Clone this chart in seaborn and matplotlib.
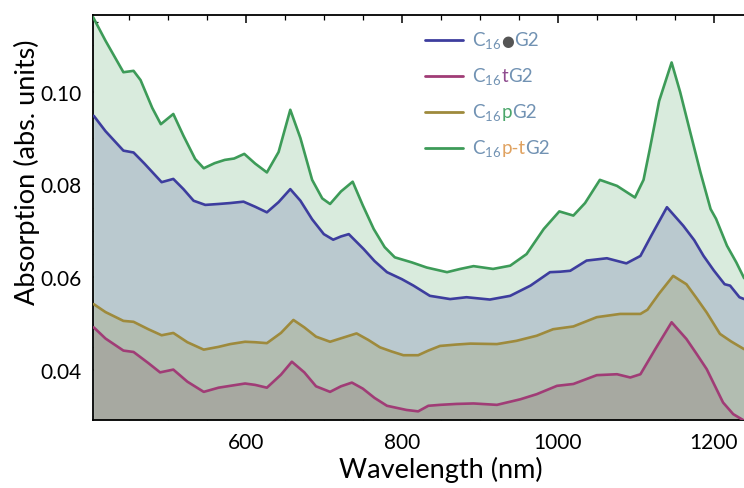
import numpy as np
import pandas as pd
import matplotlib
matplotlib.use("Agg")
import matplotlib.pyplot as plt
import seaborn as sns
from matplotlib.ticker import MultipleLocator, FormatStrFormatter
from matplotlib.offsetbox import TextArea, DrawingArea, HPacker, VPacker, AnchoredOffsetbox
from matplotlib.lines import Line2D

# ---------------- data ----------------
wl_green = [404, 420, 443, 456, 465, 480, 491, 507, 520, 535, 546, 560, 573, 585, 598, 612, 627, 642,
            657, 670, 685, 698, 708, 722, 737, 750, 764, 778, 791, 813, 832, 858, 875, 892, 917, 939,
            960, 982, 1002, 1020, 1035, 1054, 1076, 1099, 1110, 1118, 1130, 1146, 1157, 1170, 1183,
            1196, 1203, 1217, 1229, 1239]
ab_green = [0.1161, 0.1110, 0.1042, 0.1045, 0.1025, 0.0965, 0.0930, 0.0952, 0.0905, 0.0855, 0.0835,
            0.0846, 0.0853, 0.0856, 0.0866, 0.0845, 0.0826, 0.0870, 0.0961, 0.0900, 0.0810, 0.0770,
            0.0758, 0.0785, 0.0806, 0.0755, 0.0704, 0.0665, 0.0643, 0.0632, 0.0621, 0.0611, 0.0618,
            0.0624, 0.0618, 0.0625, 0.0650, 0.0704, 0.0742, 0.0733, 0.0760, 0.0810, 0.0797, 0.0772,
            0.0810, 0.0876, 0.0980, 0.1063, 0.0999, 0.0912, 0.0826, 0.0747, 0.0726, 0.0668, 0.0632,
            0.0598]

wl_blue = [405, 420, 443, 456, 470, 492, 507, 520, 533, 548, 565, 580, 597, 612, 627, 642, 657, 670,
           685, 700, 712, 722, 732, 751, 765, 781, 800, 815, 836, 862, 883, 913, 939, 965, 990, 1003,
           1016, 1037, 1063, 1088, 1106, 1120, 1140, 1161, 1175, 1187, 1200, 1214, 1221, 1233, 1239]
ab_blue = [0.0948, 0.0915, 0.0873, 0.0869, 0.0845, 0.0805, 0.0812, 0.0790, 0.0765, 0.0756, 0.0758,
           0.0760, 0.0763, 0.0752, 0.0740, 0.0762, 0.0790, 0.0765, 0.0725, 0.0693, 0.0681, 0.0688,
           0.0693, 0.0661, 0.0635, 0.0611, 0.0596, 0.0582, 0.0560, 0.0553, 0.0557, 0.0552, 0.0560,
           0.0582, 0.0611, 0.0612, 0.0614, 0.0636, 0.0641, 0.0630, 0.0646, 0.0690, 0.0751, 0.0711,
           0.0680, 0.0646, 0.0615, 0.0585, 0.0582, 0.0557, 0.0553]

wl_yellow = [405, 420, 443, 456, 475, 492, 507, 525, 546, 565, 580, 599, 612, 627, 645, 661, 675, 690,
             708, 725, 742, 757, 772, 787, 802, 821, 834, 849, 870, 888, 922, 947, 973, 994, 1020,
             1050, 1080, 1106, 1115, 1130, 1148, 1165, 1178, 1191, 1208, 1222, 1239]
ab_yellow = [0.0542, 0.0525, 0.0506, 0.0504, 0.0488, 0.0475, 0.0480, 0.0460, 0.0444, 0.0450, 0.0456,
             0.0461, 0.0460, 0.0458, 0.0480, 0.0508, 0.0492, 0.0472, 0.0461, 0.0470, 0.0479, 0.0465,
             0.0449, 0.0440, 0.0432, 0.0432, 0.0442, 0.0452, 0.0455, 0.0457, 0.0456, 0.0463, 0.0474,
             0.0488, 0.0494, 0.0514, 0.0521, 0.0521, 0.0530, 0.0565, 0.0603, 0.0585, 0.0555, 0.0524,
             0.0478, 0.0462, 0.0445]

wl_magenta = [405, 420, 443, 456, 475, 490, 507, 525, 546, 565, 580, 599, 612, 627, 645, 659, 675,
              690, 708, 722, 736, 750, 765, 781, 806, 821, 834, 849, 870, 892, 922, 952, 973, 999,
              1020, 1050, 1076, 1093, 1106, 1125, 1146, 1165, 1178, 1191, 1212, 1225, 1239]
ab_magenta = [0.0492, 0.0468, 0.0442, 0.0439, 0.0415, 0.0395, 0.0401, 0.0375, 0.0353, 0.0362, 0.0366,
              0.0371, 0.0368, 0.0362, 0.0390, 0.0418, 0.0395, 0.0365, 0.0353, 0.0365, 0.0373, 0.0360,
              0.0340, 0.0323, 0.0314, 0.0311, 0.0323, 0.0325, 0.0327, 0.0328, 0.0325, 0.0337, 0.0348,
              0.0366, 0.0370, 0.0389, 0.0391, 0.0384, 0.0391, 0.0445, 0.0503, 0.0467, 0.0435, 0.0402,
              0.0330, 0.0305, 0.0291]

series_names = ["C16●G2", "C16tG2", "C16pG2", "C16p-tG2"]
x_ticks = [600, 800, 1000, 1200]
y_ticks = [0.04, 0.06, 0.08, 0.10]

# ---------------- styling ----------------
sns.set_theme(style="white")
FONT = ["Lato", "DejaVu Sans"]
plt.rcParams["font.family"] = FONT
plt.rcParams["mathtext.default"] = "regular"

line_colors = {"C16●G2": "#3d3d9e", "C16tG2": "#a03c76", "C16pG2": "#9e8a3c", "C16p-tG2": "#3d9b58"}
fill_colors = {"C16p-tG2": "#d9ebdd", "C16●G2": "#bac9cf", "C16pG2": "#b2bdb1", "C16tG2": "#a7a9a1"}

frames = []
for name, wl, ab in [("C16●G2", wl_blue, ab_blue), ("C16tG2", wl_magenta, ab_magenta),
                     ("C16pG2", wl_yellow, ab_yellow), ("C16p-tG2", wl_green, ab_green)]:
    frames.append(pd.DataFrame({"wavelength": wl, "absorption": ab, "series": name}))
df = pd.concat(frames, ignore_index=True)

fig = plt.figure(figsize=(7.44, 4.89), dpi=100)
# the plot frame extends past the right edge of the picture (as in the reference)
right_px = 789
ax = fig.add_axes([93 / 744, 1 - 420.7 / 489, (right_px - 93) / 744, (420.7 - 15.7) / 489])

ymin, ymax = 0.0293, 0.1166
xmin = 404
xmax = 600 + (right_px - 245.7) / 0.78

# opaque fills to the bottom, topmost curve first
for name in ["C16p-tG2", "C16●G2", "C16pG2", "C16tG2"]:
    d = df[df.series == name]
    ax.fill_between(d.wavelength, d.absorption, ymin, color=fill_colors[name], lw=0, zorder=1)

sns.lineplot(data=df, x="wavelength", y="absorption", hue="series", palette=line_colors,
             hue_order=series_names, sort=False, estimator=None, lw=1.9, ax=ax, legend=False,
             zorder=3)
for ln in ax.get_lines():
    ln.set_solid_joinstyle("round")
    ln.set_solid_capstyle("round")

ax.set_xlim(xmin, xmax)
ax.set_ylim(ymin, ymax)
ax.set_xticks(x_ticks)
ax.set_yticks(y_ticks)
ax.yaxis.set_major_formatter(FormatStrFormatter("%.2f"))
ax.xaxis.set_minor_locator(MultipleLocator(50))
ax.yaxis.set_minor_locator(MultipleLocator(0.005))
ax.tick_params(which="major", direction="in", length=6, width=1.1, color="black",
               labelsize=15, top=True, bottom=True, left=True, right=False,
               labelcolor="black")
ax.tick_params(axis="x", which="major", pad=9)
ax.tick_params(axis="y", which="major", pad=8)
ax.tick_params(which="minor", direction="in", length=3.5, width=0.9, color="black",
               top=True, bottom=True, left=True, right=False)
for s in ["left", "bottom", "top"]:
    ax.spines[s].set_color("black")
    ax.spines[s].set_linewidth(1.3)
ax.spines["right"].set_visible(False)
ax.set_xlabel("Wavelength (nm)", fontsize=19.5, labelpad=3, color="black")
ax.set_ylabel("Absorption (abs. units)", fontsize=19.5, color="black")
ax.yaxis.set_label_coords((40 - 93) / (right_px - 93), (420.7 - 172) / 405)

# ---------------- legend (multi-coloured labels) ----------------
base = "#7192b3"
label_parts = {
    "C16●G2": [("C$_{16}$", base, 13.5), ("●", "#555555", 10.5), ("G2", base, 13.5)],
    "C16tG2": [("C$_{16}$", base, 13.5), ("t", "#8e4b8e", 13.5), ("G2", base, 13.5)],
    "C16pG2": [("C$_{16}$", base, 13.5), ("p", "#4aa66a", 13.5), ("G2", base, 13.5)],
    "C16p-tG2": [("C$_{16}$", base, 13.5), ("p-t", "#e0a260", 13.5), ("G2", base, 13.5)],
}
px = 72 / 100  # points per pixel
rows = []
for name in series_names:
    da = DrawingArea(38 * px, 12 * px, 0, 0)
    da.add_artist(Line2D([0, 38 * px], [6 * px, 6 * px], color=line_colors[name], lw=2.0))
    texts = []
    for t, c, fs in label_parts[name]:
        fam = ["DejaVu Sans"] if t == "●" else FONT
        texts.append(TextArea(t, textprops=dict(color=c, fontsize=fs, family=fam)))
    lab = HPacker(children=texts, align="baseline", pad=0, sep=0)
    rows.append(HPacker(children=[da, lab], align="center", pad=0, sep=9 * px))
box = VPacker(children=rows, align="left", pad=0, sep=15 * px)
anch = AnchoredOffsetbox(loc="upper left", child=box, pad=0, frameon=False,
                         bbox_to_anchor=(425 / 744, 1 - 30 / 489), bbox_transform=fig.transFigure,
                         borderpad=0)
ax.add_artist(anch)

fig.savefig("out.png", dpi=100)
